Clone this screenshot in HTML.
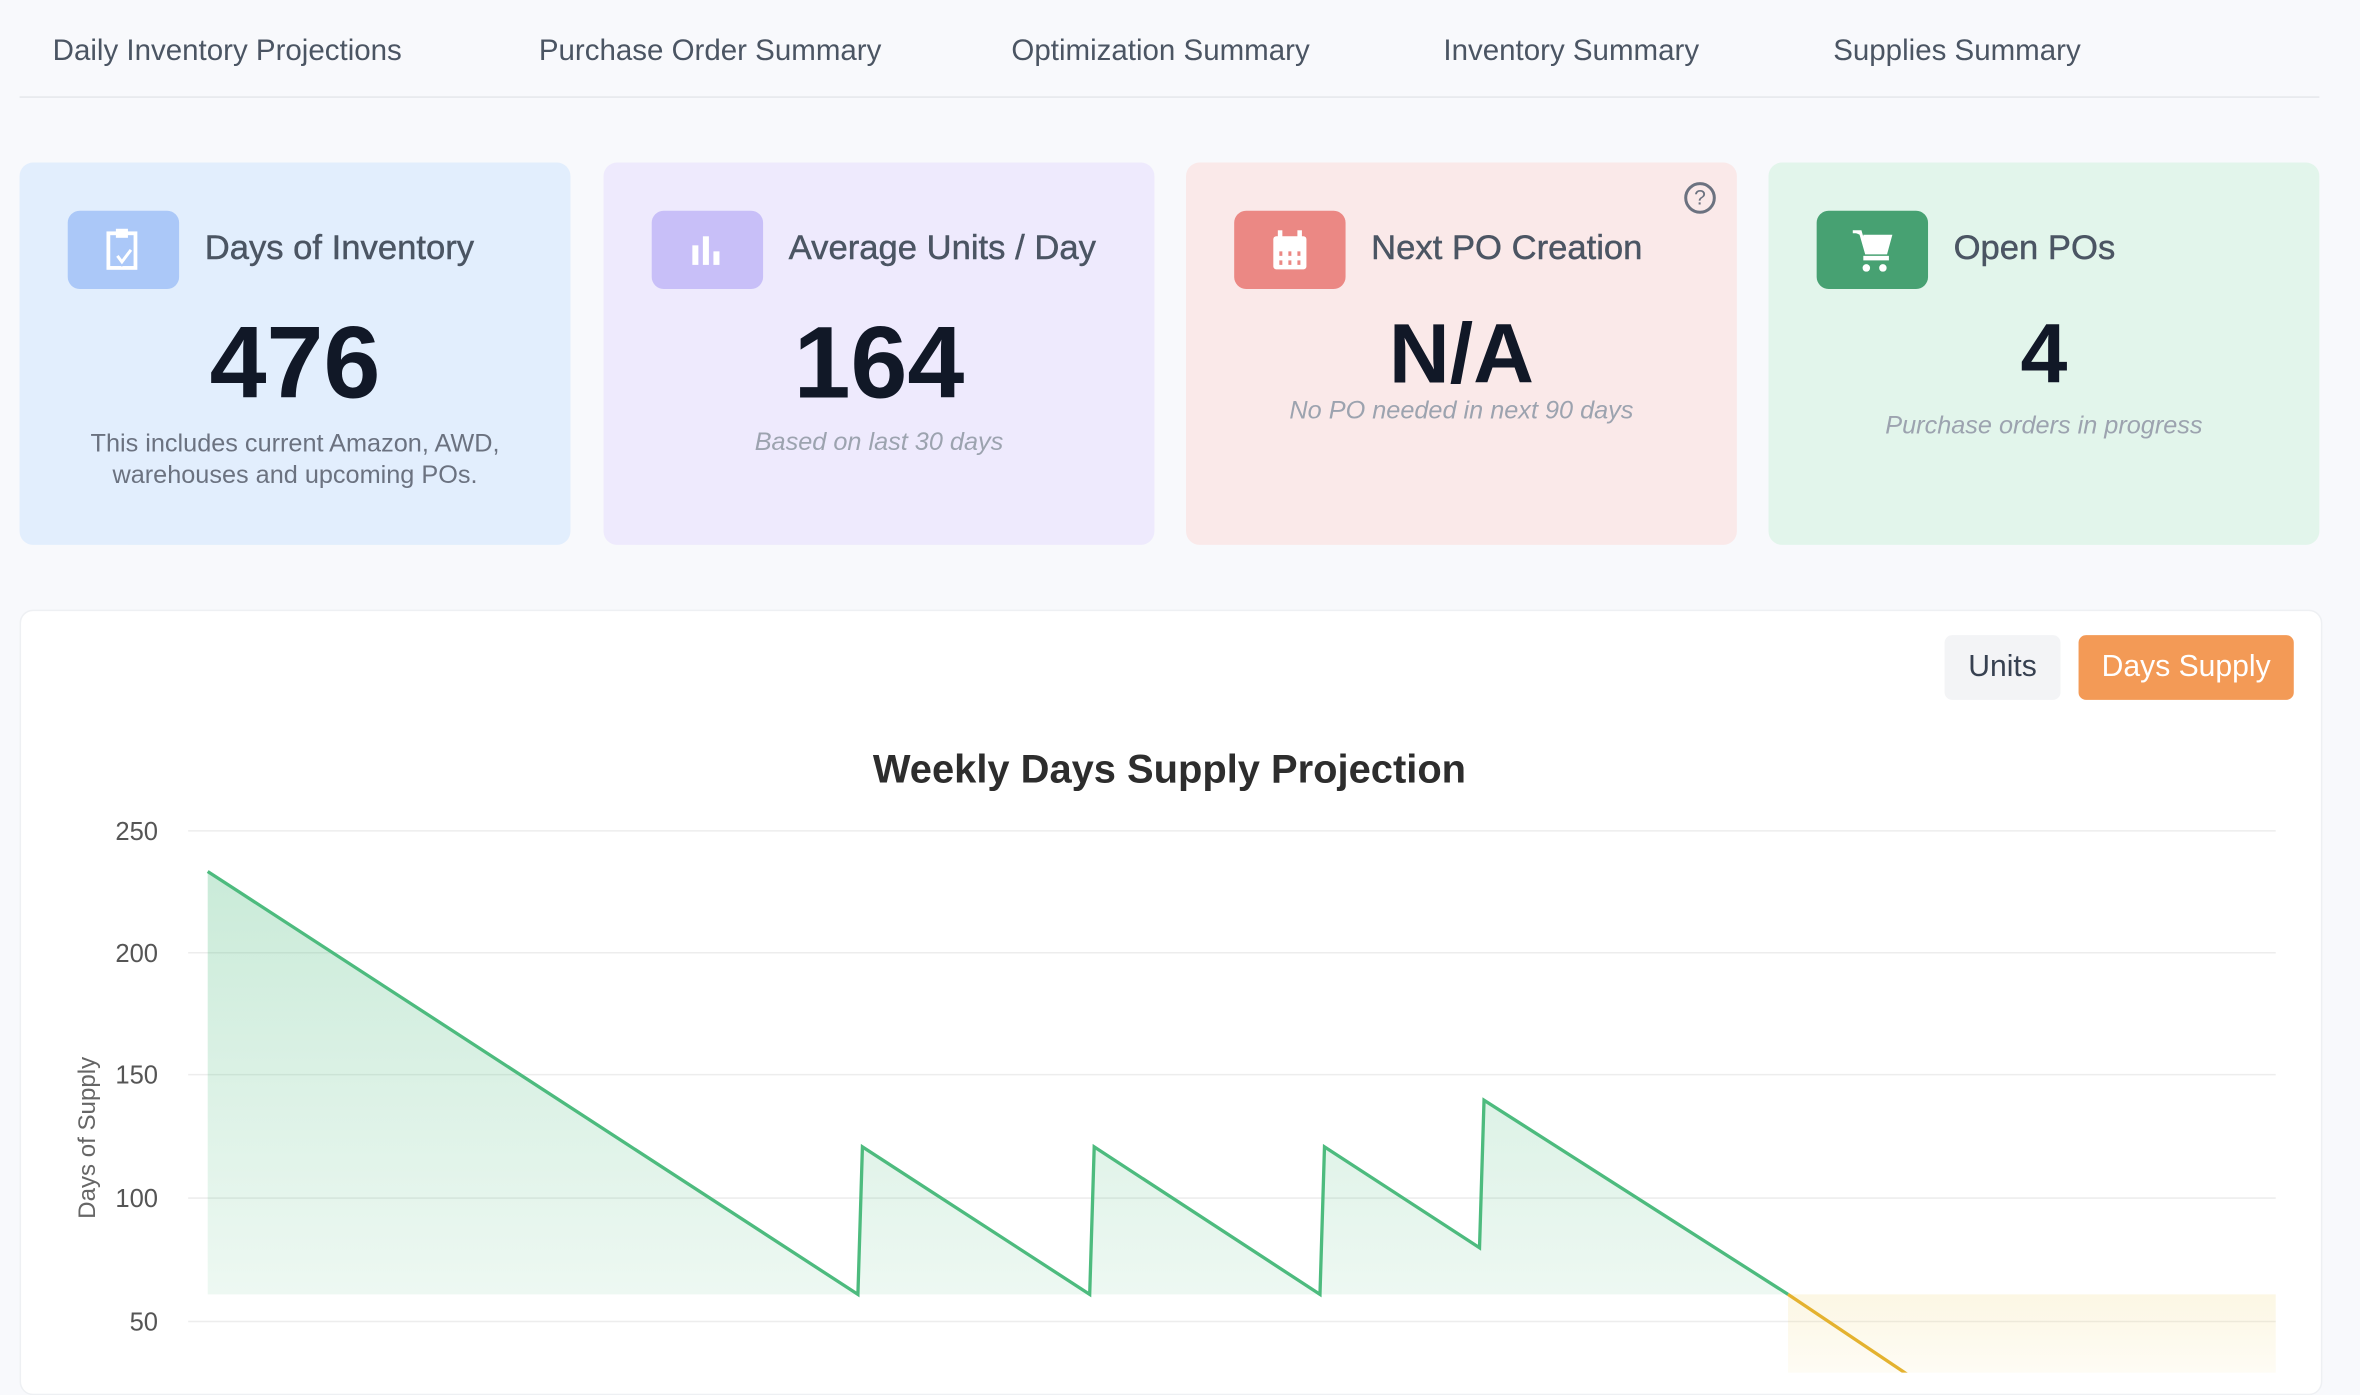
<!DOCTYPE html>
<html><head><meta charset="utf-8"><style>
html,body{margin:0;padding:0;background:#f8f9fc;overflow:hidden;width:2360px;height:1372px}
#w{position:absolute;left:0;top:0;width:1568px;height:912px;transform:scale(1.505102);transform-origin:0 0;font-family:"Liberation Sans",sans-serif}
.tab{position:absolute;top:23px;font-size:19.6px;color:#4b5563}
.card{position:absolute;top:108px;width:366px;height:254px;border-radius:9px}
.ic{position:absolute;left:32px;top:32px;width:74px;height:52px;border-radius:8px}
.tt{position:absolute;left:123px;top:43px;font-size:23px;color:#4b5563;white-space:nowrap;-webkit-text-stroke:0.3px #4b5563}
.num{position:absolute;left:0;width:100%;text-align:center;font-size:68px;font-weight:bold;color:#111827}
.sub{position:absolute;left:0;width:100%;text-align:center;font-size:16.8px;color:#9ca3af;font-style:italic}
</style></head><body><div id="w">
<div class="tab" style="left:35px">Daily Inventory Projections</div>
<div class="tab" style="left:358px">Purchase Order Summary</div>
<div class="tab" style="left:672px">Optimization Summary</div>
<div class="tab" style="left:959px">Inventory Summary</div>
<div class="tab" style="left:1218px">Supplies Summary</div>
<div style="position:absolute;left:13px;top:64px;width:1528px;height:1px;background:#e5e7eb"></div>

<div class="card" style="left:13px;background:#e2eefd">
<div class="ic" style="background:#abc8f8"><svg width="74" height="52"><rect x="27" y="15" width="18" height="23" fill="none" stroke="#fff" stroke-width="2.5"/><rect x="32" y="12" width="8" height="6" fill="#fff"/><path d="M33 30l3 4 6-8" stroke="#abc8f8" stroke-width="4" fill="none"/><path d="M33 30l3 4 6-8" stroke="#fff" stroke-width="2" fill="none"/></svg></div>
<div class="tt">Days of Inventory</div>
<div class="num" style="top:94px">476</div>
<div class="sub" style="top:176px;font-style:normal;color:#6b7280;line-height:21px">This includes current Amazon, AWD,<br>warehouses and upcoming POs.</div></div>

<div class="card" style="left:401px;background:#eeeafd">
<div class="ic" style="background:#c8bff8"><svg width="74" height="52"><rect x="27" y="23" width="4" height="13" fill="#fff"/><rect x="34" y="17" width="4" height="19" fill="#fff"/><rect x="41" y="27" width="4" height="9" fill="#fff"/></svg></div>
<div class="tt">Average Units / Day</div>
<div class="num" style="top:94px">164</div>
<div class="sub" style="top:176px">Based on last 30 days</div></div>

<div class="card" style="left:788px;background:#fae9e9">
<div style="position:absolute;left:331px;top:13px;width:17px;height:17px;border:2px solid #6b7280;border-radius:50%;font-size:14px;color:#6b7280;text-align:center;line-height:17px">?</div>
<div class="ic" style="background:#eb8884"><svg width="74" height="52"><rect x="26" y="17" width="22" height="22" rx="2" fill="#fff"/><rect x="29" y="13" width="3" height="6" fill="#fff"/><rect x="42" y="13" width="3" height="6" fill="#fff"/><g fill="#eb8884"><rect x="30" y="27" width="2" height="3"/><rect x="36" y="27" width="2" height="3"/><rect x="42" y="27" width="2" height="3"/><rect x="30" y="33" width="2" height="3"/><rect x="36" y="33" width="2" height="3"/><rect x="42" y="33" width="2" height="3"/></g></svg></div>
<div class="tt">Next PO Creation</div>
<div class="num" style="top:94px;font-size:56px">N/A</div>
<div class="sub" style="top:155px">No PO needed in next 90 days</div></div>

<div class="card" style="left:1175px;background:#e2f5eb">
<div class="ic" style="background:#47a172"><svg width="74" height="52"><path d="M24 14h5l4 14h13l3-11H31" fill="#fff" stroke="#fff" stroke-width="2"/><rect x="31" y="30" width="17" height="3" fill="#fff"/><circle cx="33" cy="38" r="2.5" fill="#fff"/><circle cx="44" cy="38" r="2.5" fill="#fff"/></svg></div>
<div class="tt">Open POs</div>
<div class="num" style="top:94px;font-size:56px">4</div>
<div class="sub" style="top:165px">Purchase orders in progress</div></div>

<div style="position:absolute;left:13px;top:405px;width:1528px;height:520px;background:#fff;border:1px solid #eef0f3;border-radius:9px"></div>
<div style="position:absolute;left:1292px;top:422px;width:77px;height:43px;background:#f3f4f6;border-radius:5px;font-size:20px;color:#374151;text-align:center;line-height:43px">Units</div>
<div style="position:absolute;left:1381px;top:422px;width:143px;height:43px;background:#f39a56;border-radius:5px;font-size:20px;color:#fff;text-align:center;line-height:43px">Days Supply</div>
<svg style="position:absolute;left:0;top:0" width="1568" height="912">
<defs><linearGradient id="g" x1="0" y1="579" x2="0" y2="860" gradientUnits="userSpaceOnUse"><stop offset="0" stop-color="#4dbb7e" stop-opacity="0.3"/><stop offset="1" stop-color="#4dbb7e" stop-opacity="0.1"/></linearGradient>
<linearGradient id="o" x1="0" y1="860" x2="0" y2="912" gradientUnits="userSpaceOnUse"><stop offset="0" stop-color="#ecc94b" stop-opacity="0.15"/><stop offset="1" stop-color="#ecc94b" stop-opacity="0.06"/></linearGradient></defs>
<text x="777" y="520" text-anchor="middle" font-size="26.5" font-weight="bold" fill="#2d2d2d" font-family="Liberation Sans">Weekly Days Supply Projection</text>
<g stroke="#ededed" stroke-width="1"><line x1="125" y1="552" x2="1512" y2="552"/><line x1="125" y1="633" x2="1512" y2="633"/><line x1="125" y1="714" x2="1512" y2="714"/><line x1="125" y1="796" x2="1512" y2="796"/><line x1="125" y1="878" x2="1512" y2="878"/></g>
<g font-size="17" fill="#555" text-anchor="end" font-family="Liberation Sans"><text x="105" y="558">250</text><text x="105" y="639">200</text><text x="105" y="720">150</text><text x="105" y="802">100</text><text x="105" y="884">50</text></g>
<text transform="translate(63,756) rotate(-90)" text-anchor="middle" font-size="16" fill="#666" font-family="Liberation Sans">Days of Supply</text>
<polygon points="138,579 570,860 573,762 724,860 727,762 877,860 880,762 983,829 986,731 1188,860 138,860" fill="url(#g)"/>
<rect x="1188" y="860" width="324" height="60" fill="url(#o)"/>
<polyline points="138,579 570,860 573,762 724,860 727,762 877,860 880,762 983,829 986,731 1188,860" fill="none" stroke="#4dbb7e" stroke-width="2.2"/>
<line x1="1188" y1="860" x2="1270" y2="915" stroke="#e4b22f" stroke-width="2.2"/>
</svg>
</div></body></html>
